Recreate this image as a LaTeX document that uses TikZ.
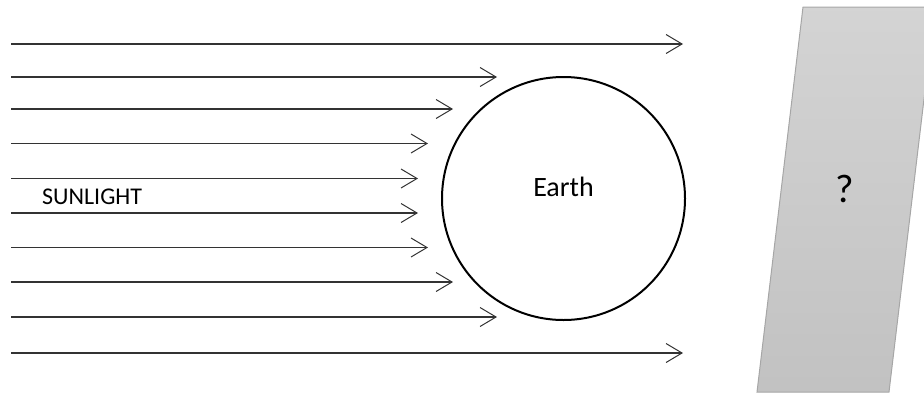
\documentclass[tikz,border=0pt]{standalone}
\usepackage{fontspec}
\setmainfont{Carlito}
\usetikzlibrary{arrows.meta}

\begin{document}
\begin{tikzpicture}[x=1pt,y=-1pt]
\tikzstyle{sunray}=[draw=black!80,line width=1.1pt,-{Straight Barb[length=16pt,width=19pt,line width=1pt]}]
\tikzstyle{planet}=[circle,draw=black,line width=2pt,minimum size=243pt,inner sep=0pt]
\tikzstyle{screen}=[draw=black!35,line width=1pt,top color=black!17,bottom color=black!24]

\useasboundingbox (0,0) rectangle (924,394);
\clip (0,0) rectangle (924,394);

%% Earth
\node [planet] (earth) at (563.5,198.5) {};
\node [font=\fontsize{28}{34}\selectfont,yshift=12pt] at (earth.center) (earthname) {Earth};

%% Rays of sunlight
\foreach \i/\y/\xend in {1/44/683,2/77/497,3/109/453,4/143.5/428,5/178.5/418,
                         6/213/418,7/247.5/428,8/282/453,9/317/497,10/353/683}{
  \coordinate (ray-\i-from) at (11,\y);
  \coordinate (ray-\i-to) at (\xend,\y);
  \draw[sunray] (ray-\i-from) -- (ray-\i-to);
}
\node [anchor=west,inner sep=0pt,font=\fontsize{24}{29}\selectfont] at (42,197) (sunlabel) {SUNLIGHT};

%% Screen behind the Earth
\path[screen] (803,7) -- (935,7) -- (889,392) -- (757,392) -- cycle;
\node [font=\fontsize{40}{48}\selectfont] at (845,189) (question) {?};

\end{tikzpicture}
\end{document}
